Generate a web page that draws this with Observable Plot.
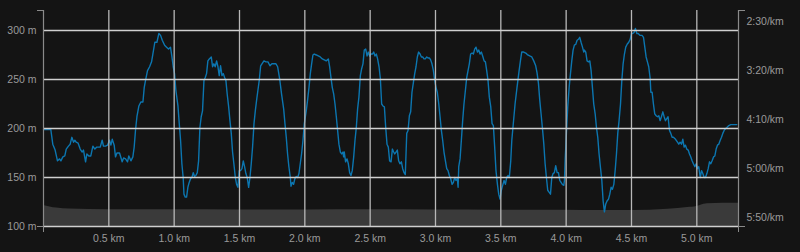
<!DOCTYPE html>
<html>
<head>
<meta charset="utf-8">
<script src="https://cdn.jsdelivr.net/npm/d3@7"></script>
<script src="https://cdn.jsdelivr.net/npm/@observablehq/plot@0.6"></script>
<style>
  html, body { margin: 0; padding: 0; background: #141414; }
  #chart svg { display: block; }
</style>
</head>
<body>
<div id="chart"></div>
<script>
// Distance ticks (km)
const xTicks = [0.5, 1.0, 1.5, 2.0, 2.5, 3.0, 3.5, 4.0, 4.5, 5.0];
// Elevation ticks (m)
const elevTicks = [100, 150, 200, 250, 300];
// Pace ticks (seconds per km)
const paceTicks = [150, 200, 250, 300, 350];

// Elevation profile
const elevKm = [0, 0.05, 0.1, 0.2, 0.5, 1.0, 1.5, 2.0, 2.5, 3.0, 3.5, 4.0, 4.26, 4.5, 4.78, 4.93, 5.0, 5.03, 5.08, 5.2, 5.319];
const elevM  = [121.5, 120, 118.8, 117.8, 117.2, 117, 116.8, 116.8, 117, 116.8, 116.6, 116.5, 116.2, 116.4, 117.7, 119.4, 120.5, 121.8, 123.2, 123.6, 123.8];

// Pace samples: distance (km) and pace (s/km)
const paceKm = [
0,0.056,0.071,0.089,0.107,0.123,0.133,0.148,0.163,0.174,0.191,0.204,0.217,0.230,0.240,0.250,0.265,0.281,0.296,0.306,0.322,0.332,0.347,0.362,0.378,0.393,0.408,0.434,0.449,0.459,0.475,0.490,0.505,0.516,0.526,0.541,0.551,0.562,0.582,0.602,0.613,0.628,0.643,0.653,0.669,0.684,0.694,0.704,0.715,0.730,0.745,0.761,0.771,0.781,0.796,0.812,0.827,0.837,0.852,0.868,0.883,0.896,
0.909,0.927,0.942,0.957,0.972,0.983,0.993,1.003,1.013,1.029,1.039,1.049,1.059,1.069,1.075,1.085,1.095,1.105,1.115,1.126,1.136,1.146,1.156,1.166,1.177,1.187,1.197,1.207,1.217,1.228,1.238,1.248,1.258,1.269,1.284,1.294,1.304,1.314,1.325,1.335,1.345,1.355,1.366,1.376,1.386,1.396,1.406,1.417,1.427,1.437,1.447,1.457,1.468,1.478,1.488,1.498,1.508,1.519,1.529,1.539,1.549,1.559,1.570,1.580,1.590,1.600,1.611,1.621,1.631,1.641,1.651,1.662,1.672,1.687,1.702,1.718,1.733,1.748,1.764,1.779,1.792,
1.807,1.822,1.838,1.848,1.858,1.868,1.878,1.889,1.894,1.904,1.914,1.924,1.935,1.945,1.955,1.965,1.975,1.986,1.996,2.011,2.021,2.032,2.042,2.052,2.062,2.072,2.088,2.103,2.118,2.134,2.149,2.164,2.180,2.190,2.200,2.210,2.221,2.231,2.241,2.251,2.261,2.272,2.282,2.292,2.297,2.302,2.312,2.323,2.333,2.343,2.353,2.363,2.374,2.384,2.394,2.404,2.414,2.425,2.435,2.445,2.455,2.466,2.476,2.486,2.496,2.506,2.517,2.527,2.537,2.547,2.557,2.568,2.578,2.588,2.598,2.609,2.619,2.629,2.639,2.649,2.660,2.670,2.680,2.688,
2.698,2.708,2.718,2.728,2.739,2.749,2.759,2.769,2.780,2.790,2.800,2.810,2.820,2.831,2.841,2.851,2.861,2.871,2.882,2.892,2.902,2.912,2.922,2.933,2.943,2.953,2.963,2.973,2.984,2.994,3.004,3.014,3.025,3.035,3.045,3.055,3.065,3.076,3.086,3.096,3.106,3.116,3.127,3.137,3.147,3.157,3.167,3.173,3.178,3.188,3.198,3.208,3.218,3.229,3.239,3.249,3.259,3.269,3.280,3.290,3.300,3.310,3.321,3.331,3.341,3.351,3.361,3.372,3.382,3.392,3.402,3.412,3.423,3.433,3.443,3.453,3.463,3.474,3.484,3.494,3.504,3.514,3.525,3.535,3.545,3.555,3.565,3.576,3.584,
3.609,3.624,3.640,3.650,3.660,3.675,3.691,3.706,3.721,3.737,3.752,3.767,3.777,3.788,3.798,3.808,3.818,3.829,3.839,3.849,3.859,3.869,3.880,3.890,3.900,3.910,3.920,3.931,3.941,3.951,3.961,3.971,3.982,3.987,3.992,4.002,4.012,4.023,4.033,4.043,4.053,4.063,4.074,4.084,4.094,4.104,4.114,4.125,4.135,4.140,4.150,4.160,4.171,4.181,4.191,4.201,4.211,4.222,4.232,4.242,4.252,4.262,4.273,4.283,4.293,4.303,4.313,4.324,4.334,4.344,4.354,4.365,4.375,4.385,4.395,4.405,4.416,4.426,4.436,4.446,4.456,4.467,4.479,
4.490,4.500,4.510,4.520,4.530,4.541,4.551,4.566,4.581,4.592,4.602,4.612,4.622,4.632,4.643,4.648,4.658,4.668,4.678,4.689,4.699,4.709,4.719,4.729,4.740,4.750,4.760,4.770,4.780,4.791,4.801,4.811,4.821,4.837,4.852,4.862,4.872,4.883,4.893,4.903,4.913,4.923,4.934,4.944,4.954,4.964,4.974,4.985,4.995,5.005,5.015,5.026,5.036,5.046,5.056,5.066,5.077,5.087,5.097,5.107,5.117,5.128,5.138,5.148,5.158,5.168,5.179,5.189,5.199,5.209,5.220,5.230,5.245,5.260,5.276,5.306
];
const paceSec = [
251,251,266,272,283,281,283,279,278,271,268,266,259,264,262,264,265,271,274,272,284,276,278,278,268,271,269,269,262,268,268,267,262,267,261,267,279,275,275,284,280,281,284,278,283,279,269,252,238,227,223,223,208,201,191,187,182,174,162,162,153,155,
160,165,167,169,167,177,187,194,211,227,245,262,286,300,317,320,320,310,305,301,300,295,299,298,295,283,249,238,232,201,198,194,181,179,177,187,184,187,181,187,196,186,196,194,198,201,215,228,242,255,274,286,300,307,310,293,293,291,283,289,296,300,310,300,286,269,245,232,221,211,201,186,184,181,182,182,186,184,184,184,187,
199,215,230,245,259,276,289,300,309,305,307,301,299,300,296,286,276,262,245,232,221,208,194,184,175,174,175,176,177,179,180,181,179,187,198,208,215,225,238,252,266,274,276,274,279,274,284,281,286,295,298,293,279,262,249,230,218,196,189,184,170,169,176,172,176,174,174,172,176,174,179,187,199,225,227,228,249,266,269,283,284,271,274,276,
274,272,283,286,284,291,295,297,255,252,237,233,213,203,194,187,177,172,174,177,177,179,179,177,178,178,180,184,191,201,208,213,225,238,252,262,274,283,291,293,298,301,307,305,300,303,301,310,289,281,262,242,225,211,198,191,184,174,173,174,169,167,172,170,174,172,176,181,182,191,201,218,228,245,247,269,293,307,317,322,313,308,303,307,300,298,300,283,262,
225,208,191,181,172,172,173,175,176,177,181,186,193,204,221,235,249,266,286,300,313,315,317,300,296,295,288,295,295,303,305,307,308,303,283,255,228,208,194,181,170,165,164,160,159,157,162,167,172,170,172,181,182,181,191,208,225,235,249,259,276,289,303,324,335,327,324,322,317,310,312,307,293,276,255,242,225,201,184,174,167,164,162,
159,153,153,152,148,153,153,155,155,157,167,177,182,187,199,213,213,225,235,237,238,237,242,238,233,238,242,240,238,252,255,259,259,261,264,266,264,266,261,269,267,271,272,276,279,283,286,289,286,291,289,300,293,296,300,300,296,291,284,286,283,279,278,271,267,266,262,259,255,252,250,249,247,246,246,246
];

// Pace (s/km) sits on the elevation grid: 2:30/km on 300 m ... 5:50/km on 100 m
const paceToY = p => 450 - p;
const fmtPace = s => `${Math.floor(s / 60)}:${String(s % 60).padStart(2, "0")}/km`;

const xMax = 5.319;
const yMax = 320.4;

const elevData = elevKm.map((k, i) => ({km: k, m: elevM[i]}));
const paceData = paceKm.map((k, i) => ({km: k, pace: paceSec[i]}));

const axisColor = "#8a8a8a";
const textColor = "#9a9a9a";

const chart = Plot.plot({
  width: 800,
  height: 252,
  marginLeft: 43,
  marginRight: 62,
  marginTop: 10,
  marginBottom: 26,
  style: {background: "#141414", color: textColor, fontSize: "10.5px", fontFamily: "'Liberation Sans', Arial, sans-serif"},
  x: {domain: [0, xMax], label: null},
  y: {domain: [100, yMax], label: null},
  marks: [
    Plot.areaY(elevData, {x: "km", y1: 100, y2: "m", fill: "#3a3a3a", curve: "monotone-x"}),
    Plot.line(paceData, {x: "km", y: d => paceToY(d.pace), stroke: "#0c76b0", strokeWidth: 1.4, strokeLinejoin: "round"}),
    Plot.ruleX(xTicks, {stroke: "#b8b8b8", strokeWidth: 1.3}),
    Plot.ruleY(elevTicks, {stroke: "#d0d0d0", strokeWidth: 1.6}),
    Plot.ruleX([0, xMax], {stroke: axisColor, strokeWidth: 1.2}),
    // axis end caps
    Plot.axisY([100, yMax], {anchor: "left", label: null, tickSize: 6, tickFormat: () => "", stroke: axisColor}),
    Plot.axisY([100, yMax], {anchor: "right", label: null, tickSize: 6, tickFormat: () => "", stroke: axisColor}),
    Plot.axisX([0, xMax], {anchor: "bottom", label: null, tickSize: 6, tickFormat: () => "", stroke: axisColor}),
    // labels
    Plot.axisY(elevTicks, {anchor: "left", label: null, tickSize: 0, tickPadding: 7, tickFormat: d => `${d} m`, fill: textColor}),
    Plot.axisY(paceTicks.map(paceToY), {anchor: "right", label: null, tickSize: 0, tickPadding: 8, dy: -9, tickFormat: d => fmtPace(450 - d), fill: textColor}),
    Plot.axisX(xTicks, {anchor: "bottom", label: null, tickSize: 0, tickPadding: 8, tickFormat: d => `${d.toFixed(1)} km`, fill: textColor})
  ]
});
document.getElementById("chart").appendChild(chart);
</script>
</body>
</html>
